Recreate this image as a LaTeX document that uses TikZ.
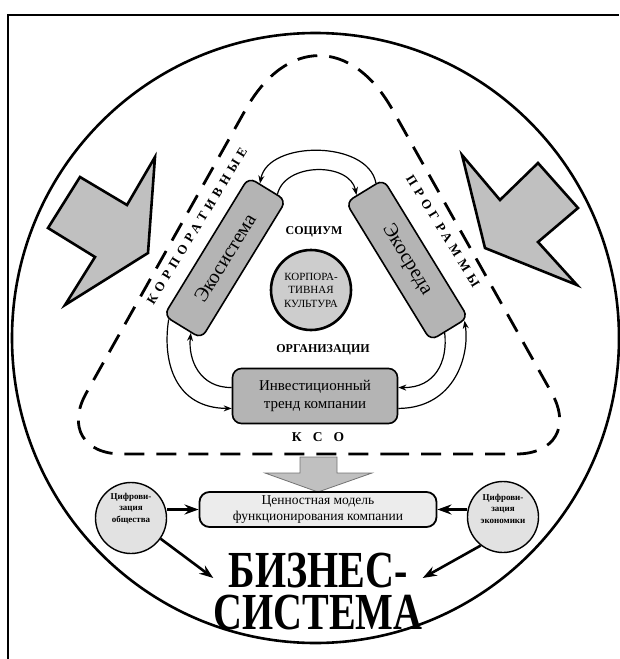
\documentclass[tikz,border=0pt]{standalone}
\usepackage{fontspec}
\setmainfont{Liberation Serif}
\usetikzlibrary{arrows.meta,calc}
\definecolor{hgrey}{RGB}{192,192,192}
\definecolor{hgrey0}{RGB}{180,180,180}
\definecolor{hgrey1}{RGB}{205,205,205}
\definecolor{hgrey2}{RGB}{226,226,226}
\definecolor{hgrey3}{RGB}{236,236,236}
\tikzset{
  ecobox/.style={draw,line width=1.6,fill=hgrey0,rounded corners=8,minimum width=162,minimum height=44,inner sep=0,font=\fontsize{20}{22}\selectfont},
  invbox/.style={draw,line width=1.6,fill=hgrey0,rounded corners=9,minimum width=165,minimum height=55,inner sep=0,align=center,font=\fontsize{15}{18}\selectfont},
  valbox/.style={draw,line width=1.8,fill=hgrey3,rounded corners=10,minimum width=237,minimum height=35,inner sep=0,align=center,font=\fontsize{13.5}{15.5}\selectfont},
  kult/.style={circle,draw,line width=2.6,fill=hgrey1,minimum size=80,inner sep=0,align=center,font=\fontsize{11}{13.5}\selectfont},
  digi/.style={circle,draw,line width=1.4,fill=hgrey2,minimum size=71,inner sep=0},
  digitext/.style={align=center,inner sep=0,font=\fontsize{9}{11.5}\selectfont\bfseries},
  caps/.style={inner sep=0,font=\fontsize{12}{14}\selectfont\bfseries},
  spaced/.style={inner sep=0,font=\fontsize{13}{15}\selectfont\bfseries\addfontfeature{LetterSpace=38}},
  curv/.style={line width=1.2,-{Stealth[length=8pt,width=6pt]}},
  fat/.style={line width=2.6,-{Stealth[length=14pt,width=10pt]}},
  boltshape/.style={draw,line width=2.6,fill=hgrey,line join=miter},
  dashline/.style={line width=2.8,dash pattern=on 20pt off 12pt},
}
\newcommand{\bolt}[1]{\draw[boltshape] #1 -- cycle;}
\newcommand{\edgept}[3]{($(#1)!#3!(#2)$)}

\begin{document}
\begin{tikzpicture}[x=1pt,y=-1pt]
  \pgfmathsetmacro{\ang}{58.5};
  \useasboundingbox (0,0) rectangle (619,659);
  % frame and big oval
  \draw[line width=2.5] (8,659) -- (8,15) -- (619,15);
  \draw[line width=2.6] (315.5,338) ellipse [x radius=303.5,y radius=305];
  % dashed triangle
  \draw[dashline] (319,454) [rounded corners=70] -- (586,454)
    [rounded corners=150] -- (319,-21) [rounded corners=70] -- (52,454) -- cycle;
  % side arrows
  \bolt{(155,157) -- (127,205) -- (80,177) -- (48,228) -- (95,257) -- (65,305) -- (148,253)}
  \bolt{(462,155) -- (500,200) -- (538,163) -- (578,208) -- (538,242) -- (577,285) -- (485,248)}
  \node[spaced,rotate=\ang] (korp) at (197,226) {КОРПОРАТИВНЫЕ};
  \node[spaced,rotate=-\ang] (prog) at (443,231) {ПРОГРАММЫ};

  \node[ecobox,rotate=\ang] (eco) at (225,258) {Экосистема};
  \node[ecobox,rotate=-\ang] (eso) at (407,260) {Экосреда};
  \node[invbox] (inv) at (315,396) {Инвестиционный\\тренд компании};
  \node[kult] (kult) at (311,290) {КОРПОРА-\\ТИВНАЯ\\КУЛЬТУРА};
  \node[caps] (soc) at (314,232) {СОЦИУМ};
  \node[caps] (org) at (323,350) {ОРГАНИЗАЦИИ};
  \node[caps,font=\fontsize{13.5}{15}\selectfont\bfseries] (kso) at (318,437) {К\hspace{11pt}С\hspace{11pt}О};

  \draw[curv] \edgept{eso.north west}{eso.south west}{0.2} .. controls (368,140) and (268,140) .. \edgept{eco.north east}{eco.south east}{0.3};
  \draw[curv] \edgept{eco.north east}{eco.south east}{0.75} .. controls (285,162) and (350,162) .. \edgept{eso.north west}{eso.south west}{0.7};
  \draw[curv] \edgept{inv.north west}{inv.south west}{0.35} .. controls (200,388) and (188,360) .. \edgept{eco.north west}{eco.south west}{0.72};
  \draw[curv] \edgept{eco.north west}{eco.south west}{0.15} .. controls (162,362) and (175,408) .. \edgept{inv.north west}{inv.south west}{0.72};
  \draw[curv] \edgept{eso.north east}{eso.south east}{0.63} .. controls (448,362) and (435,388) .. \edgept{inv.north east}{inv.south east}{0.35};
  \draw[curv] \edgept{inv.north east}{inv.south east}{0.72} .. controls (455,408) and (470,355) .. \edgept{eso.north east}{eso.south east}{0.12};

  % lower part
  \draw[fill=hgrey,draw=black!55,line width=0.8] (300,457) -- (337,457) -- (337,473) -- (372,473) -- (318,492) -- (265,473) -- (300,473) -- cycle;
  \node[valbox] (val) at (318,509.5) {Ценностная модель\\функционирования компании};
  \node[digi] (dsoc) at (131,518) {};
  \node[digitext] (dsoct) at (131,508.5) {Цифрови-\\зация\\общества};
  \node[digi] (decon) at (503,517) {};
  \node[digitext] (decont) at (503,508.5) {Цифрови-\\зация\\экономики};
  \node[inner sep=0,align=center,xscale=0.77,font=\fontsize{52}{42}\selectfont\bfseries] (biz) at (318,592) {БИЗНЕС-\\СИСТЕМА};

  \draw[fat] (dsoc.east |- val.west) -- (val.west);
  \draw[fat] (decon.west |- val.east) -- (val.east);
  \draw[fat] (dsoc.-35) -- ([yshift=14pt]biz.west);
  \draw[fat] (decon.-128) -- ([yshift=14pt]biz.east);
\end{tikzpicture}
\end{document}
